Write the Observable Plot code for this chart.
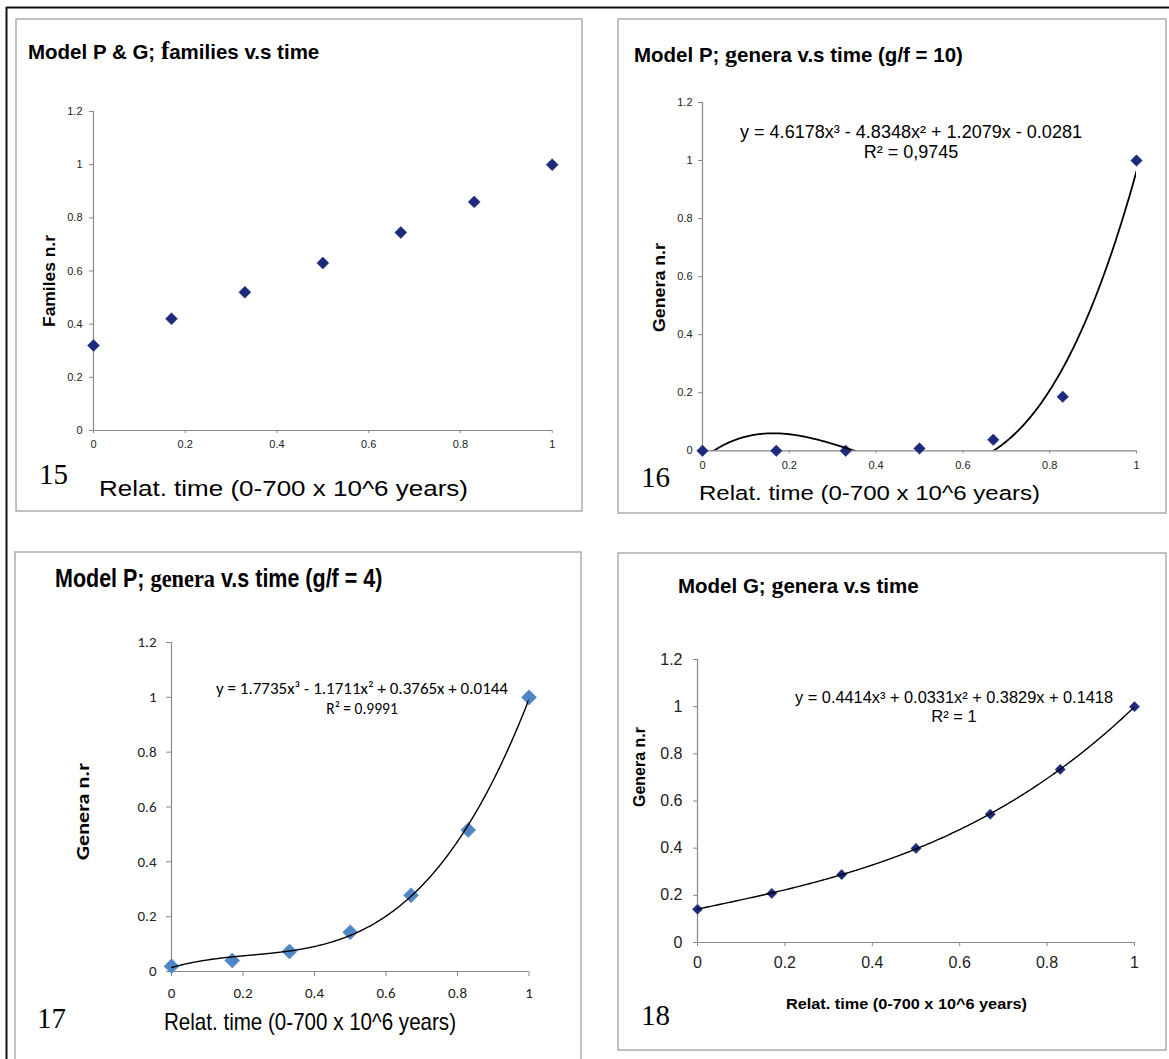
<!DOCTYPE html>
<html><head><meta charset="utf-8">
<script src="https://cdn.jsdelivr.net/npm/d3@7"></script>
<script src="https://cdn.jsdelivr.net/npm/@observablehq/plot@0.6"></script>
<style>
body{margin:0;background:#fff;}
#page{position:relative;width:1169px;height:1059px;overflow:hidden;background:#fff;}
.plot{position:absolute;}
.plot svg{overflow:visible;background:transparent;}
#overlay{position:absolute;left:0;top:0;pointer-events:none;}
</style></head><body><div id="page"></div>
<script>
// ---- data ----
const relTime   = [0, 0.17, 0.33, 0.5, 0.67, 0.83, 1];
const familiesPG = [0.32, 0.42, 0.52, 0.63, 0.745, 0.86, 1.0];
const generaP10  = [0, 0, 0, 0.008, 0.038, 0.186, 1.0];
const generaP4   = [0.019, 0.040, 0.073, 0.143, 0.278, 0.516, 1.0];
const generaG    = [0.141, 0.208, 0.288, 0.399, 0.544, 0.734, 1.0];
const xTicks = [0, 0.2, 0.4, 0.6, 0.8, 1];
const yTicks = [0, 0.2, 0.4, 0.6, 0.8, 1, 1.2];
// cubic trendline coefficients (x^3, x^2, x, const) as printed on the charts
const trendP10 = [4.6178, -4.8348, 1.2079, -0.0281];
const trendP4  = [1.7735, -1.1711, 0.3765, 0.0144];
const trendG   = [0.4414, 0.0331, 0.3829, 0.1418];
const eqP10 = ["y = 4.6178x³ - 4.8348x² + 1.2079x - 0.0281", "R² = 0,9745"];
const eqP4  = ["y = 1.7735x³ - 1.1711x² + 0.3765x + 0.0144", "R² = 0.9991"];
const eqG   = ["y = 0.4414x³ + 0.0331x² + 0.3829x + 0.1418", "R² = 1"];
const xLabel = "Relat. time (0-700 x 10^6 years)";

const ARIAL = "'Liberation Sans', Arial, Helvetica, sans-serif";
const NARROW = "'Liberation Sans Narrow', 'Arial Narrow', 'Liberation Sans', Arial, sans-serif";
const CALIBRI = "Carlito, Calibri, Lato, 'Open Sans', sans-serif";
const TIMES = "'Liberation Serif', 'Times New Roman', Times, serif";
const NAVY = "#1d2a7c";
const LBLUE = "#4f86c6";

const page = document.getElementById("page");

function cubic(c){ return x => ((c[0]*x + c[1])*x + c[2])*x + c[3]; }
function trendData(c){ const f = cubic(c); return d3.range(401).map(i => { const x = i/400; return {x, y: f(x)}; }); }

function makePanel(cfg){
  const ml = 70, mr = 20, mt = 20, mb = 50;
  const W = cfg.x1 - cfg.x0 + ml + mr;
  const H = cfg.yB - cfg.yT + mt + mb;
  const pts = relTime.map((x, i) => ({x, y: cfg.values[i]}));
  const marks = [
    Plot.axisX(xTicks, {tickSize: cfg.tsx, tickPadding: cfg.tpx, tickFormat: d => `${d}`, label: null, stroke: "#888", fill: cfg.tickColor, fontSize: cfg.fs, fontFamily: cfg.font}),
    Plot.axisY(yTicks, {tickSize: cfg.tsy, tickPadding: cfg.tpy, tickFormat: d => `${d}`, label: null, stroke: "#888", fill: cfg.tickColor, fontSize: cfg.fs, fontFamily: cfg.font}),
    Plot.ruleX([0], {stroke: "#888", strokeWidth: 1.2}),
    Plot.ruleY([0], {stroke: "#888", strokeWidth: 1.2}),
    Plot.dot(pts, {x: "x", y: "y", symbol: "diamond2", fill: cfg.color, stroke: cfg.color, strokeWidth: 0.5, r: cfg.r})
  ];
  if (cfg.trend) marks.push(Plot.line(trendData(cfg.trend), {x: "x", y: "y", stroke: "#000", strokeWidth: cfg.lw, clip: true}));
  const chart = Plot.plot({
    width: W, height: H, marginLeft: ml, marginRight: mr, marginTop: mt, marginBottom: mb,
    x: {domain: [0, 1]},
    y: {domain: [0, 1.2]},
    style: {fontFamily: cfg.font, fontSize: cfg.fs + "px", background: "transparent", overflow: "visible"},
    marks
  });
  const div = document.createElement("div");
  div.className = "plot";
  div.style.left = (cfg.x0 - ml) + "px";
  div.style.top = (cfg.yT - mt) + "px";
  div.style.width = W + "px";
  div.appendChild(chart);
  page.appendChild(div);
}

makePanel({x0: 93.3, x1: 552, yT: 111, yB: 430, values: familiesPG, color: NAVY, r: 5.4,
  font: ARIAL, fs: 11, tickColor: "#222", tsx: 3, tpx: 7, tsy: 4, tpy: 7});
makePanel({x0: 702, x1: 1136, yT: 101.7, yB: 450, values: generaP10, color: NAVY, r: 5.2,
  trend: trendP10, lw: 1.8, font: ARIAL, fs: 11, tickColor: "#222", tsx: 3, tpx: 7.5, tsy: 4, tpy: 6});
makePanel({x0: 171, x1: 528.5, yT: 642, yB: 971, values: generaP4, color: LBLUE, r: 6.8,
  trend: trendP4, lw: 1.4, font: CALIBRI, fs: 15, tickColor: "#222", tsx: 5, tpx: 11, tsy: 5, tpy: 10});
makePanel({x0: 697, x1: 1134, yT: 659.3, yB: 942.3, values: generaG, color: NAVY, r: 4.6,
  trend: trendG, lw: 1.4, font: ARIAL, fs: 16, tickColor: "#222", tsx: 4, tpx: 10, tsy: 4, tpy: 11});

// ---- overlay: frames, titles, labels ----
const svg = d3.select(page).append("svg").attr("id", "overlay").attr("width", 1169).attr("height", 1059);
// outer frame
svg.append("line").attr("x1", 6).attr("x2", 1169).attr("y1", 7.5).attr("y2", 7.5).attr("stroke", "#111").attr("stroke-width", 2);
svg.append("line").attr("x1", 6.5).attr("x2", 6.5).attr("y1", 7).attr("y2", 1059).attr("stroke", "#111").attr("stroke-width", 2);
// panel boxes
const boxes = [[16, 19, 582, 511], [618, 19, 1166, 513], [15, 552, 581, 1062], [618, 553, 1166, 1050]];
boxes.forEach(([a, b, c, d]) => svg.append("rect").attr("x", a).attr("y", b).attr("width", c - a).attr("height", d - b)
  .attr("fill", "none").attr("stroke", "#a0a0a0").attr("stroke-width", 1.3));

function title(x, y, parts, size, family, weight, sx = 1){
  const t = svg.append("text").attr("transform", `translate(${x},${y}) scale(${sx},1)`).attr("font-size", size).attr("font-family", family)
    .attr("font-weight", weight).attr("fill", "#000");
  parts.forEach(p => {
    const ts = t.append("tspan").text(p.t);
    if (p.serif) ts.attr("font-family", TIMES).attr("font-weight", "bold").attr("font-size", p.size || size);
  });
}
title(28, 59, [{t: "Model P & G; "}, {t: "f", serif: true, size: 25}, {t: "amilies v.s time"}], 20.5, ARIAL, "bold");
title(634, 62, [{t: "Model P; "}, {t: "g", serif: true, size: 24}, {t: "enera v.s time (g/f = 10)"}], 20.5, ARIAL, "bold");
title(55, 587, [{t: "Model P; "}, {t: "genera", serif: true, size: 26}, {t: " v.s time (g/f = 4)"}], 25, ARIAL, "bold", 0.86);
title(678, 593, [{t: "Model G; "}, {t: "g", serif: true, size: 24}, {t: "enera v.s time"}], 20.5, ARIAL, "bold");

function ylab(x, y, text, size, family, weight, len){
  svg.append("text").attr("transform", `translate(${x},${y}) rotate(-90)`).attr("text-anchor", "middle")
    .attr("font-size", size).attr("font-family", family).attr("font-weight", weight).attr("fill", "#000")
    .attr("textLength", len).attr("lengthAdjust", "spacingAndGlyphs").text(text);
}
ylab(55, 281, "Familes n.r", 17, ARIAL, "bold", 92);
ylab(665, 287.5, "Genera n.r", 17, ARIAL, "bold", 89);
ylab(89, 811.5, "Genera n.r", 18, CALIBRI, "bold", 97);
ylab(645, 767, "Genera n.r", 16, ARIAL, "bold", 80);

function xlab(x, y, size, family, weight, len){
  svg.append("text").attr("x", x).attr("y", y).attr("font-size", size).attr("font-family", family)
    .attr("font-weight", weight).attr("fill", "#000").attr("textLength", len).attr("lengthAdjust", "spacingAndGlyphs").text(xLabel);
}
xlab(99, 496, 22, ARIAL, "normal", 369);
xlab(699, 500, 20.5, ARIAL, "normal", 341);
xlab(164, 1030, 24, NARROW, "normal", 292);
xlab(786, 1009, 15, ARIAL, "bold", 241);

function num(x, y, text){
  svg.append("text").attr("x", x).attr("y", y).attr("font-size", 29).attr("font-family", TIMES).attr("fill", "#000").text(text);
}
num(39, 484, "15"); num(641, 487, "16"); num(37, 1028, "17"); num(641, 1025, "18");

function eq(cx, y1, y2, lines, size, family, len){
  svg.append("text").attr("x", cx).attr("y", y1).attr("text-anchor", "middle").attr("font-size", size).attr("font-family", family)
    .attr("fill", "#000").attr("textLength", len).attr("lengthAdjust", "spacingAndGlyphs").text(lines[0]);
  svg.append("text").attr("x", cx).attr("y", y2).attr("text-anchor", "middle").attr("font-size", size).attr("font-family", family)
    .attr("fill", "#000").text(lines[1]);
}
eq(911, 138, 158, eqP10, 18, ARIAL, 342);
eq(362, 694, 714, eqP4, 15.5, CALIBRI, 292);
eq(954, 703, 722, eqG, 16.5, ARIAL, 318);
</script></body></html>
